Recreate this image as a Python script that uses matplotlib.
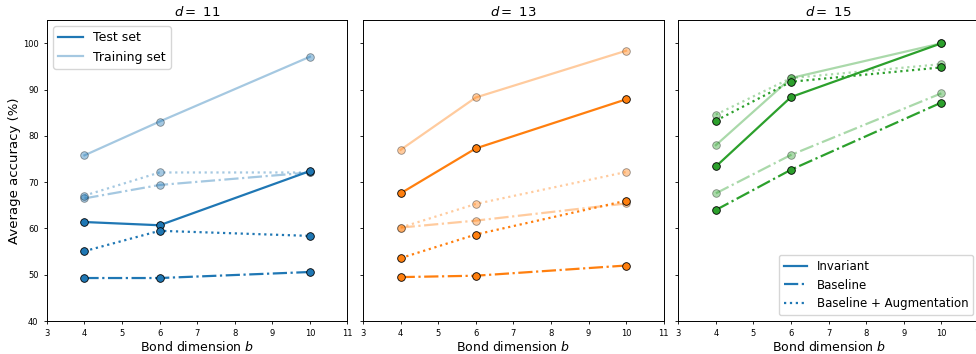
import numpy as np
import matplotlib
matplotlib.use("Agg")
import matplotlib.pyplot as plt
from matplotlib.lines import Line2D

# Bond dimensions
b = [4, 6, 10]
ds = [11, 13, 15]
colors = ['C0', 'C1', 'C2']

# Test accuracies (%) per d: invariant, baseline, baseline + augmentation
test_inv = [[61.4, 60.7, 72.4], [67.6, 77.3, 87.9], [73.4, 88.4, 100.0]]
test_base = [[49.3, 49.3, 50.6], [49.5, 49.8, 52.0], [64.0, 72.7, 87.2]]
test_aug = [[55.1, 59.5, 58.4], [53.6, 58.7, 66.0], [83.3, 91.7, 94.8]]

# Training accuracies (%)
train_inv = [[75.8, 83.1, 97.1], [77.0, 88.3, 98.4], [78.0, 92.5, 100.0]]
train_base = [[66.5, 69.4, 72.1], [60.2, 61.7, 65.4], [67.6, 75.9, 89.2]]
train_aug = [[67.1, 72.1, 72.1], [60.2, 65.3, 72.2], [84.6, 92.5, 95.5]]

fig = plt.figure(figsize=(9.76, 3.54), dpi=100)
lefts = [0.048, 0.372, 0.695]
axes = []
for i in range(3):
    ax = fig.add_axes([lefts[i], 0.093, 0.308, 0.85])
    axes.append(ax)
    c = colors[i]
    styles = ['-', '-.', ':']
    for ys, ls in zip([train_inv[i], train_base[i], train_aug[i]], styles):
        ax.plot(b, ys, ls, color=c, lw=1.6, alpha=0.4, marker='o', ms=5.5,
                mec='k', mew=0.6)
    for ys, ls in zip([test_inv[i], test_base[i], test_aug[i]], styles):
        ax.plot(b, ys, ls, color=c, lw=1.6, marker='o', ms=5.5,
                mec='k', mew=0.6)
    ax.set_xlim(3, 11)
    ax.set_ylim(40, 105)
    ax.set_xticks(range(3, 12))
    ax.set_yticks(range(40, 101, 10))
    ax.tick_params(labelsize=6, length=2.5, width=0.6)
    for s in ax.spines.values():
        s.set_linewidth(0.7)
    ax.set_xlabel('Bond dimension $b$', fontsize=9, labelpad=1)
    ax.set_title('$d=$ %d' % ds[i], fontsize=9.5, pad=3)
    if i > 0:
        ax.set_yticklabels([])

axes[0].set_ylabel('Average accuracy (%)', fontsize=9.5, labelpad=1)

h1 = [Line2D([], [], color='C0', lw=1.6),
      Line2D([], [], color='C0', lw=1.6, alpha=0.4)]
axes[0].legend(h1, ['Test set', 'Training set'], loc='upper left', fontsize=9)

h2 = [Line2D([], [], color='C0', lw=1.6, ls='-'),
      Line2D([], [], color='C0', lw=1.6, ls='-.'),
      Line2D([], [], color='C0', lw=1.6, ls=':')]
axes[2].legend(h2, ['Invariant', 'Baseline', 'Baseline + Augmentation'],
               loc='lower right', fontsize=8.5)

plt.savefig('out.png', dpi=100)
